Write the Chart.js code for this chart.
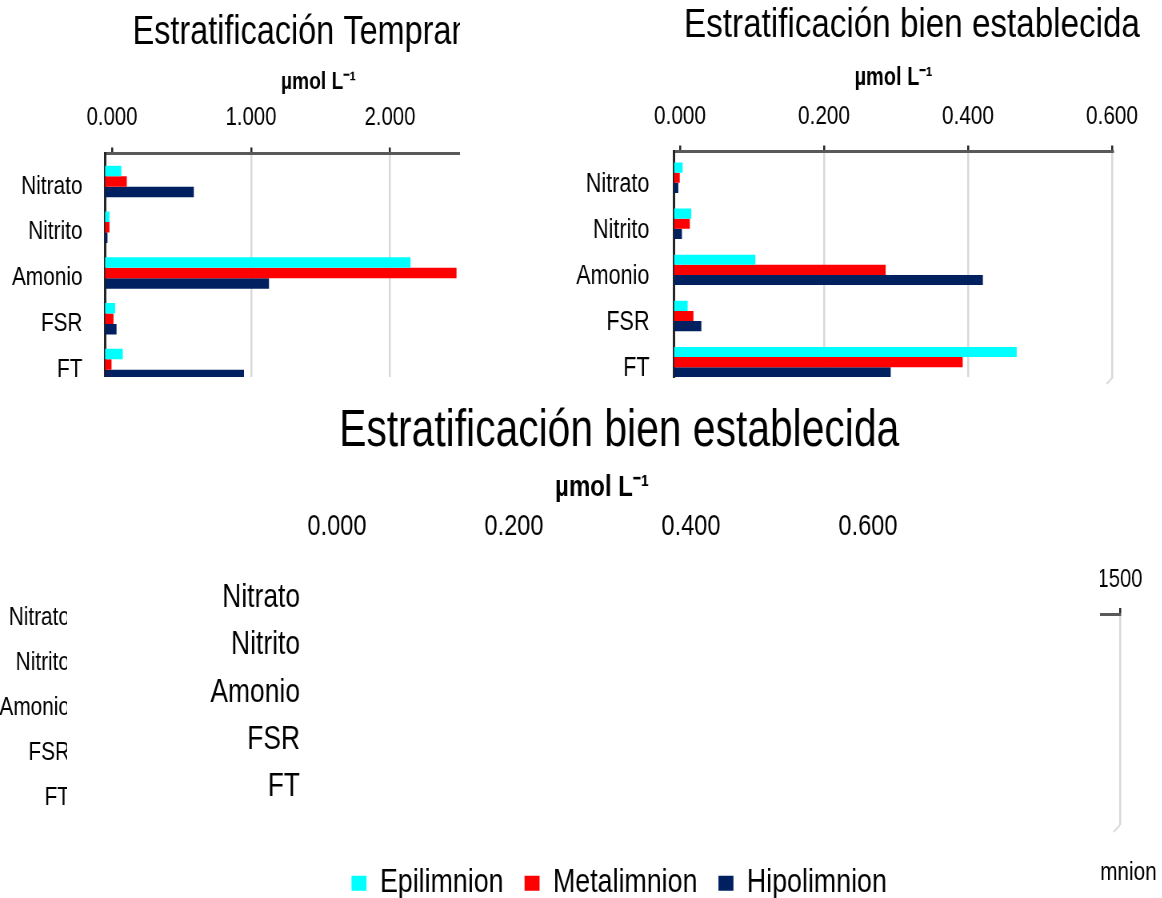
<!DOCTYPE html>
<html lang="es">
<head>
<meta charset="utf-8">
<title>Nutrientes por estrato</title>
<script src="https://cdn.jsdelivr.net/npm/chart.js@4.4.1/dist/chart.umd.min.js"></script>
<style>
  html, body { margin: 0; padding: 0; background: #ffffff; }
  body { position: relative; width: 1162px; height: 898px; overflow: hidden; }
  .panel { position: absolute; overflow: hidden; }
  .panel canvas { position: absolute; transform-origin: 0 0; }
</style>
</head>
<body>
<script>
// ---------- data ----------
const categories = ['Nitrato', 'Nitrito', 'Amonio', 'FSR', 'FT'];
const seriesNames = ['Epilimnion', 'Metalimnion', 'Hipolimnion'];

// Estratificación temprana (µmol L-1)
const tempranaEpilimnion  = [0.117, 0.032, 2.198, 0.073, 0.128];
const tempranaMetalimnion = [0.157, 0.032, 2.529, 0.061, 0.047];
const tempranaHipolimnion = [0.639, 0.018, 1.180, 0.083, 1.000];

// Estratificación bien establecida (µmol L-1)
const establecidaEpilimnion  = [0.012, 0.024, 0.113, 0.019, 0.476];
const establecidaMetalimnion = [0.008, 0.022, 0.294, 0.027, 0.401];
const establecidaHipolimnion = [0.006, 0.011, 0.429, 0.038, 0.301];

// tick values of the value axes
const ticksTemprana = [0, 1, 2, 3];
const ticksEstablecida = [0, 0.2, 0.4, 0.6];
const ticksLarge = [0, 500, 1000, 1500];

// ---------- styling ----------
const seriesColors = ['#00FFFF', '#FF0000', '#002060'];
const SQUEEZE = 0.8;   // horizontal condensing of every canvas (narrow lettering)
Chart.defaults.font.family = "'Liberation Sans', Arial, sans-serif";
Chart.defaults.color = '#000000';

// light floor edge of the plot wall (bottom-right corner)
const wallEdge = {
  id: 'wallEdge',
  afterDraw(chart, args, opts) {
    if (!opts.show) return;
    const { ctx, chartArea: a } = chart;
    ctx.save();
    ctx.strokeStyle = '#d9d9d9';
    ctx.lineWidth = 2;
    ctx.beginPath();
    ctx.moveTo(a.right, a.bottom);
    ctx.lineTo(a.right - 8, a.bottom + 7);
    ctx.stroke();
    ctx.restore();
  }
};

function barSets(lists, groupShare) {
  return seriesNames.map((name, k) => ({
    label: name,
    data: lists ? lists[k].map((v, i) => ({ x: v, y: i })) : [],
    backgroundColor: seriesColors[k],
    borderWidth: 0,
    xAxisID: 'x',
    yAxisID: 'y',
    categoryPercentage: groupShare || 0.68,
    barPercentage: 1
  }));
}

// fixes the thickness of an axis box so the plot area lands where wanted
function fixSize(size) {
  return scale => {
    scale.paddingLeft = scale.paddingRight = scale.paddingTop = scale.paddingBottom = 0;
    if (scale.isHorizontal()) scale.height = size; else scale.width = size;
  };
}
function keepRange(min, max, ticks) {
  return scale => {
    if (ticks) scale.ticks = ticks.map(t => ({ value: t }));
    scale.min = min;
    scale.max = max;
  };
}

function drawPanel(g) {
  const s = SQUEEZE;
  const holder = document.createElement('div');
  holder.className = 'panel';
  holder.style.left = g.clip[0] + 'px';
  holder.style.top = g.clip[1] + 'px';
  holder.style.width = g.clip[2] + 'px';
  holder.style.height = g.clip[3] + 'px';
  document.body.appendChild(holder);

  const [cx, cy, cw, ch] = g.canvas;
  const vw = Math.round(cw / s);
  const vx = p => (p - cx) / s;
  const canvas = document.createElement('canvas');
  canvas.width = vw;
  canvas.height = ch;
  canvas.style.left = (cx - g.clip[0]) + 'px';
  canvas.style.top = (cy - g.clip[1]) + 'px';
  canvas.style.transform = 'scaleX(' + s + ')';
  holder.appendChild(canvas);

  const padBottom = g.padBottom || 0;
  const a = g.area;

  let titleH = 0;
  const title = { display: false };
  if (g.title) {
    const lh = g.title.size * 1.2;
    const top = g.title.middle - cy - lh / 2;
    titleH = top + lh;
    Object.assign(title, {
      display: true, text: g.title.text, color: '#000000',
      font: { size: g.title.size, weight: 'normal' },
      padding: { top: top, bottom: 0 }
    });
  }

  let legendH = 0;
  const legend = { display: false };
  if (g.legend) {
    const gap = g.legend.gap / s;
    legendH = g.legend.size + gap + 10;
    Object.assign(legend, {
      display: true, position: 'bottom', align: g.legend.align,
      labels: {
        color: '#000000', font: { size: g.legend.size },
        boxWidth: g.legend.box / s, boxHeight: g.legend.box, padding: gap
      }
    });
  }

  const areaBottom = cy + ch - padBottom - legendH;
  const xHeight = a.top - cy - titleH;
  const v = g.value;
  const perUnit = v ? v.perUnit : 1;

  let valueAxis = { type: 'linear', axis: 'x', position: 'top', display: false, min: 0, max: 1 };
  if (v) {
    const tl = v.marks ? 6 : 0;
    const tickPad = a.top - tl - v.size * 0.6 - v.middle;
    const axisTitle = { display: false };
    if (g.axisTitle) {
      Object.assign(axisTitle, {
        display: true, text: 'µmol L⁻¹', color: '#000000',
        font: { size: g.axisTitle.size, weight: 'bold' },
        padding: { top: g.axisTitle.middle - (cy + titleH) - g.axisTitle.size * 0.6, bottom: 0 }
      });
    }
    const tMin = (a.left - v.zero) / v.perUnit;
    const tMax = (a.right - v.zero) / v.perUnit;
    valueAxis = {
      type: 'linear', axis: 'x', position: 'top', display: true, offset: false,
      bounds: 'data', min: tMin, max: tMax,
      afterBuildTicks: keepRange(tMin, tMax, v.ticks),
      afterFit: fixSize(xHeight),
      ticks: {
        autoSkip: false, maxRotation: 0, minRotation: 0, padding: tickPad,
        font: { size: v.size }, color: '#000000',
        callback: val => Number(val).toFixed(v.digits)
      },
      grid: {
        display: true, offset: false, drawTicks: v.marks, tickLength: tl, tickWidth: 2.5, tickColor: '#262626',
        lineWidth: 2.5,
        color: ctx => (!v.grid || (ctx.tick && ctx.tick.value === 0)) ? 'rgba(0,0,0,0)' : '#d9d9d9'
      },
      border: { display: v.line, color: '#595959', width: 3 },
      title: axisTitle
    };
  }

  const c = g.cat;
  const yMin = -(c.first - a.top) / c.band;
  const yMax = yMin + (areaBottom - a.top) / c.band;
  const xMax = (a.right - a.left) / perUnit;

  new Chart(canvas, {
    type: 'bar',
    data: { labels: categories, datasets: g.datasets },
    plugins: [wallEdge],
    options: {
      indexAxis: 'y',
      responsive: false,
      animation: false,
      devicePixelRatio: 1,
      layout: { padding: { left: 0, right: 0, top: 0, bottom: padBottom } },
      plugins: {
        title: title,
        legend: legend,
        tooltip: { enabled: false },
        wallEdge: { show: !!g.wallEdge }
      },
      scales: {
        x: {
          type: 'linear', axis: 'x', display: false, offset: false, bounds: 'data',
          min: 0, max: xMax, afterBuildTicks: keepRange(0, xMax)
        },
        xt: valueAxis,
        y: {
          type: 'linear', axis: 'y', position: 'left', reverse: true, offset: false, bounds: 'data',
          min: yMin, max: yMax,
          afterBuildTicks: keepRange(yMin, yMax, categories.map((_, i) => i)),
          afterFit: fixSize(vx(a.left)),
          ticks: {
            autoSkip: false, padding: (a.left - c.rightEdge) / s, labelOffset: c.labelOffset,
            font: { size: c.size }, color: '#000000',
            callback: val => categories[val]
          },
          grid: { display: true, offset: false, drawTicks: false, color: 'rgba(0,0,0,0)' },
          border: { display: c.border, color: '#262626', width: 3 }
        },
        side: {
          type: 'linear', axis: 'y', position: 'right', display: true, offset: false,
          afterFit: fixSize(vw - vx(a.right)),
          ticks: { display: false },
          grid: { display: false, drawTicks: false },
          border: { display: false }
        }
      }
    }
  });
}

// Estratificación temprana
drawPanel({
  clip: [0, 0, 460, 377],
  canvas: [0, 0, 620, 377],
  area: { left: 105, right: 532, top: 153.5 },
  title: { text: 'Estratificación Temprana', size: 40.5, middle: 33 },
  axisTitle: { size: 24, middle: 82 },
  value: { zero: 112, perUnit: 139, ticks: ticksTemprana, digits: 3, size: 25.4, middle: 117.5, marks: true, line: true, grid: true },
  cat: { first: 181.5, band: 45.75, size: 26, labelOffset: 5, rightEdge: 82.5, border: true },
  datasets: barSets([tempranaEpilimnion, tempranaMetalimnion, tempranaHipolimnion], 0.69)
});

// Estratificación bien establecida
drawPanel({
  clip: [560, 0, 602, 386],
  canvas: [560, 0, 704, 386],
  padBottom: 9,
  area: { left: 674, right: 1113, top: 151.5 },
  title: { text: 'Estratificación bien establecida', size: 41.5, middle: 26 },
  axisTitle: { size: 25, middle: 78 },
  value: { zero: 680, perUnit: 720, ticks: ticksEstablecida, digits: 3, size: 26, middle: 116.5, marks: true, line: true, grid: true },
  cat: { first: 177.7, band: 46.1, size: 27, labelOffset: 6.5, rightEdge: 649.5, border: true },
  wallEdge: true,
  datasets: barSets([establecidaEpilimnion, establecidaMetalimnion, establecidaHipolimnion], 0.66)
});

// large panel, legend at the bottom
drawPanel({
  clip: [76, 395, 1086, 503],
  canvas: [76, 395, 1086, 515],
  area: { left: 330, right: 874, top: 555 },
  title: { text: 'Estratificación bien establecida', size: 51, middle: 431.5 },
  axisTitle: { size: 30, middle: 488 },
  value: { zero: 337, perUnit: 885, ticks: ticksEstablecida, digits: 3, size: 29.5, middle: 527, marks: false, line: false, grid: false },
  cat: { first: 598, band: 47.25, size: 33, labelOffset: 0, rightEdge: 300, border: false },
  legend: { size: 33.5, box: 15, gap: 21, align: 'center' },
  datasets: barSets(null)
});

// narrow panel at the left edge
drawPanel({
  clip: [0, 590, 67, 230],
  canvas: [0, 590, 200, 230],
  area: { left: 92, right: 190, top: 590 },
  value: null,
  cat: { first: 617.5, band: 45, size: 26, labelOffset: 0, rightEdge: 70, border: false },
  datasets: barSets(null)
});

// narrow panel at the right edge
drawPanel({
  clip: [1100, 555, 62, 343],
  canvas: [560, 555, 625, 341],
  area: { left: 900, right: 1120, top: 614 },
  value: { zero: 900, perUnit: 220 / 1500, ticks: ticksLarge, digits: 0, size: 25.3, middle: 580, marks: true, line: true, grid: true },
  cat: { first: 640, band: 40, size: 25, labelOffset: 0, rightEdge: 878, border: false },
  legend: { size: 26, box: 13, gap: 28, align: 'end' },
  wallEdge: true,
  datasets: barSets(null)
});
</script>
</body>
</html>
